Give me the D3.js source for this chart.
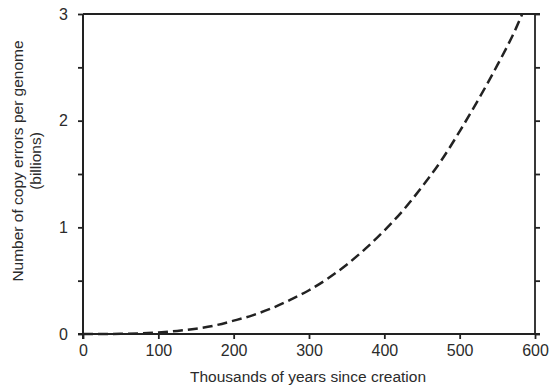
<!DOCTYPE html>
<html>
<head>
<meta charset="utf-8">
<script src="https://cdn.jsdelivr.net/npm/d3@7.9.0/dist/d3.min.js"></script>
<style>
  html, body { margin: 0; padding: 0; background: #fff; }
  svg { display: block; font-family: "Liberation Sans", Arial, sans-serif; }
</style>
</head>
<body>
<svg id="chart" width="560" height="391"></svg>
<script>
// values (thousands of years, billions of errors)
const years = [0, 25, 50, 75, 100, 125, 150, 175, 200, 225, 250, 275, 300, 325, 350, 375, 400, 425, 450, 475, 500, 525, 550, 575, 583];
const errors = [0, 0.0003, 0.002, 0.006, 0.015, 0.029, 0.05, 0.08, 0.125, 0.175, 0.24, 0.32, 0.41, 0.52, 0.65, 0.8, 0.97, 1.16, 1.38, 1.62, 1.9, 2.2, 2.52, 2.87, 3.0];
const xTicks = [0, 100, 200, 300, 400, 500, 600];
const yTicks = [0, 1, 2, 3];
const yMinorTicks = [0.5, 1.5, 2.5];

const svg = d3.select("#chart");
const margin = { top: 14, right: 25, bottom: 57, left: 83 };
const width = 560 - margin.left - margin.right;
const height = 391 - margin.top - margin.bottom;

const x = d3.scaleLinear().domain([0, 600]).range([0, width]);
const y = d3.scaleLinear().domain([0, 3]).range([height, 0]);

const g = svg.append("g").attr("transform", `translate(${margin.left},${margin.top})`);

const ink = "#222";
const textInk = "#2b2b2b";

// frame lines (top and bottom overhang a little, like the original)
g.append("line").attr("x1", 0).attr("x2", width + 5).attr("y1", 0).attr("y2", 0)
  .attr("stroke", ink).attr("stroke-width", 2);
g.append("line").attr("x1", width).attr("x2", width).attr("y1", 0).attr("y2", height)
  .attr("stroke", ink).attr("stroke-width", 1.8);
g.append("line").attr("x1", -5).attr("x2", width + 5).attr("y1", height).attr("y2", height)
  .attr("stroke", ink).attr("stroke-width", 2);
g.append("line").attr("x1", 0).attr("x2", 0).attr("y1", 0).attr("y2", height + 5)
  .attr("stroke", ink).attr("stroke-width", 2);

// x axis
g.append("g").attr("transform", `translate(0,${height})`)
  .call(d3.axisBottom(x).tickValues(xTicks).tickSize(5).tickPadding(6).tickSizeOuter(0));
// left y axis
g.append("g")
  .call(d3.axisLeft(y).tickValues(yTicks).tickFormat(d3.format("d")).tickSize(5).tickPadding(10).tickSizeOuter(0));
g.append("g")
  .call(d3.axisLeft(y).tickValues(yMinorTicks).tickSize(5).tickFormat("").tickSizeOuter(0));
// right y axis ticks
g.append("g").attr("transform", `translate(${width},0)`)
  .call(d3.axisRight(y).tickValues(yTicks.concat(yMinorTicks)).tickSize(5).tickFormat("").tickSizeOuter(0));

g.selectAll(".domain").remove();
g.selectAll(".tick line").attr("stroke", ink).attr("stroke-width", 1.8);
g.selectAll(".tick text").attr("fill", textInk).style("font-size", "16px");

// the dashed curve
const line = d3.line()
  .x((d, i) => x(years[i]))
  .y(d => y(d))
  .curve(d3.curveMonotoneX);
g.append("path")
  .datum(errors)
  .attr("d", line)
  .attr("fill", "none")
  .attr("stroke", ink)
  .attr("stroke-width", 2.5)
  .attr("stroke-dasharray", "10,5");

// axis titles
svg.append("text")
  .attr("x", margin.left + width / 2 - 1)
  .attr("y", 382)
  .attr("text-anchor", "middle")
  .attr("fill", textInk)
  .style("font-size", "15.5px")
  .text("Thousands of years since creation");

const yt = svg.append("text")
  .attr("transform", `translate(23,161) rotate(-90)`)
  .attr("text-anchor", "middle")
  .attr("fill", textInk)
  .style("font-size", "15.5px");
yt.append("tspan").attr("x", 0).attr("dy", 0).text("Number of copy errors per genome");
yt.append("tspan").attr("x", 0).attr("dy", 18).text("(billions)");
</script>
</body>
</html>
